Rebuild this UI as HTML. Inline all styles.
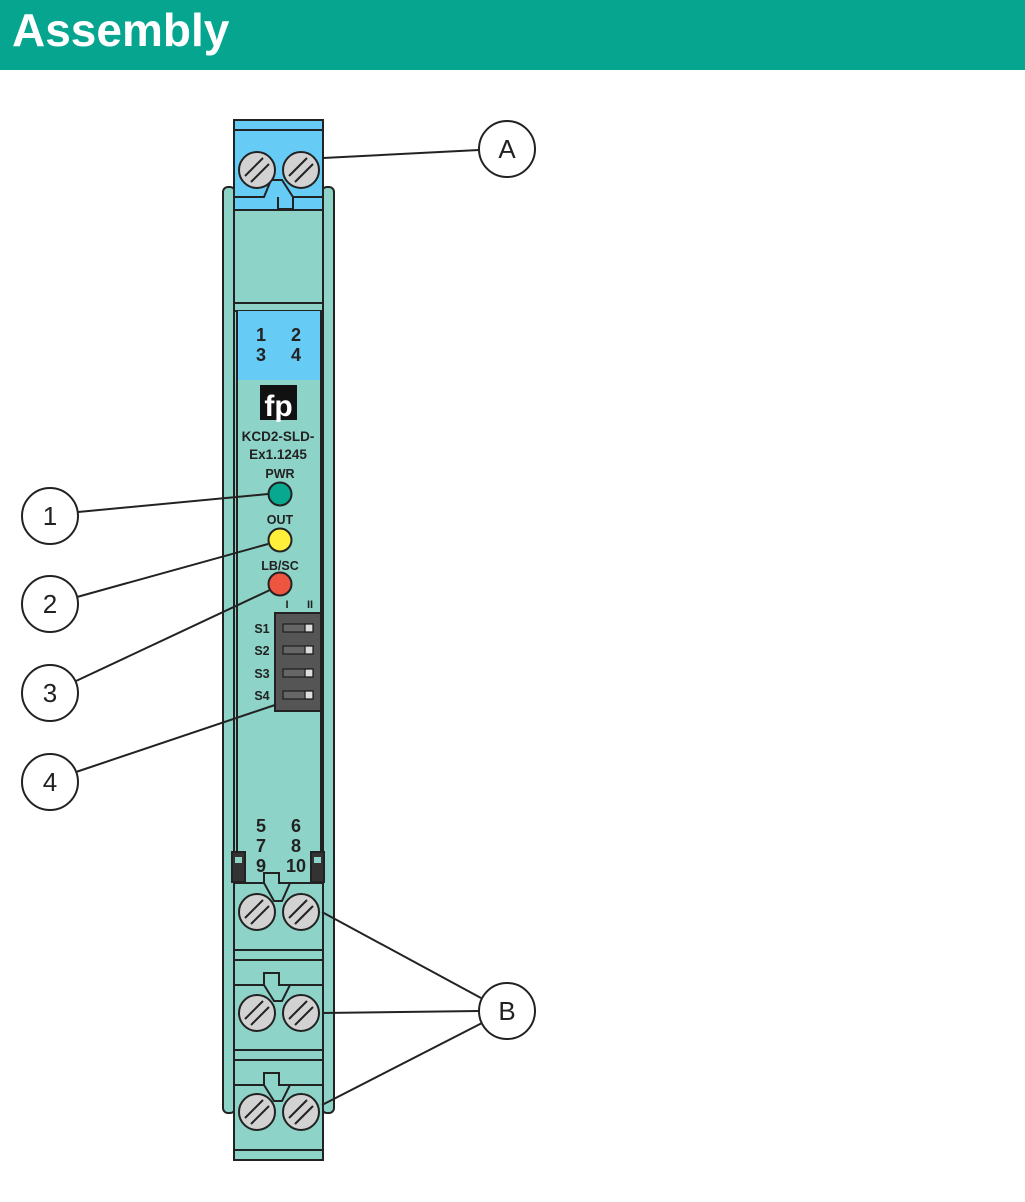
<!DOCTYPE html>
<html><head><meta charset="utf-8"><style>
html,body{margin:0;padding:0;background:#fff;}
svg{display:block;}
text{font-family:"Liberation Sans",Arial,sans-serif;}
</style></head><body>
<svg width="1025" height="1202" viewBox="0 0 1025 1202" xmlns="http://www.w3.org/2000/svg">
<rect x="0" y="0" width="1025" height="70" fill="#05A58F"/>
<text x="12" y="46" font-size="46" font-weight="bold" fill="#fff">Assembly</text>

<g stroke="#222" stroke-width="2" fill="#8ED3C8">
<rect x="223" y="187" width="12" height="926" rx="5"/>
<rect x="322" y="187" width="12" height="926" rx="5"/>
<rect x="234" y="205" width="89" height="955"/>
<rect x="234" y="303" width="89" height="8"/>
</g>
<rect x="236" y="311" width="85" height="69" fill="#66CCF5"/>
<line x1="237" y1="311" x2="237" y2="880" stroke="#222" stroke-width="2"/>
<line x1="321" y1="311" x2="321" y2="880" stroke="#222" stroke-width="2"/>
<g font-weight="bold" font-size="18" fill="#222" text-anchor="middle">
<text x="261" y="341">1</text><text x="296" y="341">2</text>
<text x="261" y="361">3</text><text x="296" y="361">4</text>
<text x="261" y="832">5</text><text x="296" y="832">6</text>
<text x="261" y="852">7</text><text x="296" y="852">8</text>
<text x="261" y="872">9</text><text x="296" y="872">10</text>
</g>
<rect x="260" y="385" width="37" height="35" fill="#111"/>
<text x="278.5" y="416" font-size="30" font-weight="bold" fill="#fff" text-anchor="middle">fp</text>
<g font-weight="bold" fill="#222" text-anchor="middle" font-size="13.5">
<text x="278" y="441">KCD2-SLD-</text>
<text x="278" y="459">Ex1.1245</text>
<text x="280" y="478" font-size="12.5">PWR</text>
<text x="280" y="524" font-size="12.5">OUT</text>
<text x="280" y="570" font-size="12.5">LB/SC</text>
<text x="287" y="608" font-size="11">I</text>
<text x="310" y="608" font-size="11">II</text>
<text x="262" y="633" font-size="12.5">S1</text>
<text x="262" y="655" font-size="12.5">S2</text>
<text x="262" y="678" font-size="12.5">S3</text>
<text x="262" y="700" font-size="12.5">S4</text>
</g>
<g stroke="#222" stroke-width="2">
<circle cx="280" cy="494" r="11.5" fill="#08A890"/>
<circle cx="280" cy="540" r="11.5" fill="#FFEF3A"/>
<circle cx="280" cy="584" r="11.5" fill="#EE5540"/>
<rect x="275" y="613" width="46" height="98" fill="#555"/>
</g>
<g stroke="#222" stroke-width="1.3" fill="#666">
<rect x="283" y="624" width="30" height="8"/><rect x="305" y="624" width="8" height="8" fill="#ddd"/>
<rect x="283" y="646" width="30" height="8"/><rect x="305" y="646" width="8" height="8" fill="#ddd"/>
<rect x="283" y="669" width="30" height="8"/><rect x="305" y="669" width="8" height="8" fill="#ddd"/>
<rect x="283" y="691" width="30" height="8"/><rect x="305" y="691" width="8" height="8" fill="#ddd"/>
</g>

<g stroke="#222" stroke-width="2">
<rect x="234" y="120" width="89" height="90" fill="#66CCF5"/>
<line x1="234" y1="130" x2="323" y2="130"/>
<path d="M234 197 H264 L271 180 H282 L293 197 H323" fill="none"/>
<path d="M278 197 V209 H293 V197" fill="none"/>
</g>

<g stroke="#222" stroke-width="2" fill="#333">
<rect x="232" y="852" width="13" height="30"/>
<rect x="311" y="852" width="13" height="30"/>
</g>
<g fill="#8ED3C8"><rect x="235" y="857" width="7" height="6"/><rect x="314" y="857" width="7" height="6"/></g>

<g stroke="#222" stroke-width="2" fill="#8ED3C8">
<rect x="234" y="883" width="89" height="77"/>
<line x1="234" y1="950" x2="323" y2="950"/>
<rect x="234" y="985" width="89" height="75"/>
<line x1="234" y1="1050" x2="323" y2="1050"/>
<rect x="234" y="1085" width="89" height="75"/>
<line x1="234" y1="1150" x2="323" y2="1150"/>
<path d="M264 873 H279 V883 L290 883 L282 901 H274 L264 883 Z"/>
<path d="M264 973 H279 V985 L290 985 L282 1001 H274 L264 985 Z"/>
<path d="M264 1073 H279 V1085 L290 1085 L282 1101 H274 L264 1085 Z"/>
</g>

<g stroke="#222" stroke-width="2" fill="#D2D2D2">
<g transform="translate(257,170)"><circle r="18"/><line x1="-12" y1="6" x2="6" y2="-12"/><line x1="-6" y1="12" x2="12" y2="-6"/></g>
<g transform="translate(301,170)"><circle r="18"/><line x1="-12" y1="6" x2="6" y2="-12"/><line x1="-6" y1="12" x2="12" y2="-6"/></g>
<g transform="translate(257,912)"><circle r="18"/><line x1="-12" y1="6" x2="6" y2="-12"/><line x1="-6" y1="12" x2="12" y2="-6"/></g>
<g transform="translate(301,912)"><circle r="18"/><line x1="-12" y1="6" x2="6" y2="-12"/><line x1="-6" y1="12" x2="12" y2="-6"/></g>
<g transform="translate(257,1013)"><circle r="18"/><line x1="-12" y1="6" x2="6" y2="-12"/><line x1="-6" y1="12" x2="12" y2="-6"/></g>
<g transform="translate(301,1013)"><circle r="18"/><line x1="-12" y1="6" x2="6" y2="-12"/><line x1="-6" y1="12" x2="12" y2="-6"/></g>
<g transform="translate(257,1112)"><circle r="18"/><line x1="-12" y1="6" x2="6" y2="-12"/><line x1="-6" y1="12" x2="12" y2="-6"/></g>
<g transform="translate(301,1112)"><circle r="18"/><line x1="-12" y1="6" x2="6" y2="-12"/><line x1="-6" y1="12" x2="12" y2="-6"/></g>
</g>

<g stroke="#222" stroke-width="2" fill="none">
<line x1="323" y1="158" x2="479" y2="150"/>
<line x1="78" y1="512" x2="268" y2="494"/>
<line x1="77" y1="597" x2="268" y2="544"/>
<line x1="76" y1="681" x2="270" y2="590"/>
<line x1="76" y1="772" x2="275" y2="705"/>
<line x1="322" y1="912" x2="481" y2="998"/>
<line x1="322" y1="1013" x2="479" y2="1011"/>
<line x1="322" y1="1105" x2="482" y2="1023"/>
</g>
<g stroke="#222" stroke-width="2" fill="#fff">
<circle cx="507" cy="149" r="28"/>
<circle cx="50" cy="516" r="28"/>
<circle cx="50" cy="604" r="28"/>
<circle cx="50" cy="693" r="28"/>
<circle cx="50" cy="782" r="28"/>
<circle cx="507" cy="1011" r="28"/>
</g>
<g font-size="26" fill="#222" text-anchor="middle">
<text x="507" y="158">A</text>
<text x="50" y="525">1</text>
<text x="50" y="613">2</text>
<text x="50" y="702">3</text>
<text x="50" y="791">4</text>
<text x="507" y="1020">B</text>
</g>
</svg>
</body></html>
